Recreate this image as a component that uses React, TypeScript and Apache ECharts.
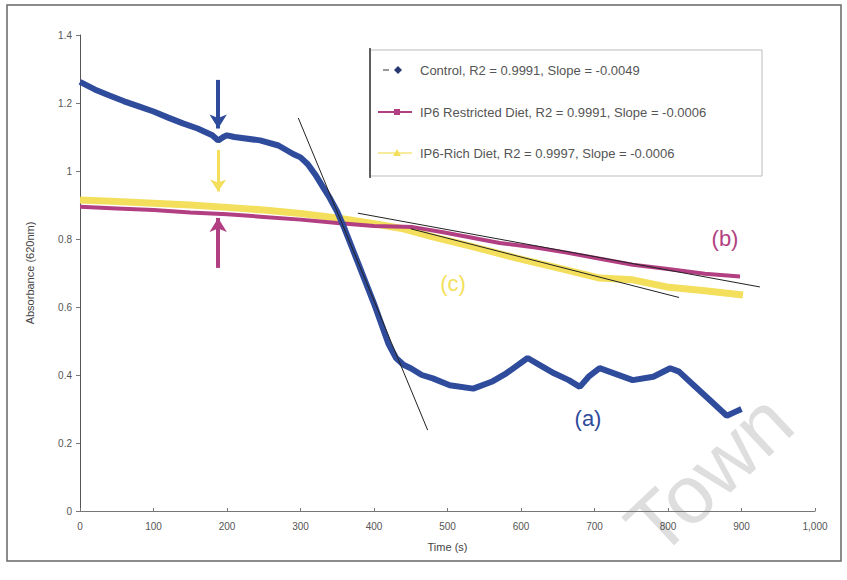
import React, { useEffect, useRef } from "react";
import * as echarts from "echarts";

// Control (a)
const controlT = [0, 20, 40, 60, 80, 100, 120, 140, 160, 180, 188, 195, 200, 210, 245, 270, 290, 300, 310, 320, 330, 340, 350, 360, 370, 380, 390, 400, 410, 420, 430, 440, 450, 465, 480, 503, 535, 560, 580, 609, 625, 645, 665, 680, 692, 707, 720, 752, 780, 803, 815, 835, 855, 880, 890, 900];
const controlY = [1.262, 1.24, 1.222, 1.205, 1.19, 1.175, 1.157, 1.14, 1.125, 1.105, 1.09, 1.1, 1.105, 1.1, 1.09, 1.075, 1.05, 1.04, 1.02, 0.99, 0.955, 0.92, 0.88, 0.83, 0.775, 0.72, 0.665, 0.61, 0.55, 0.49, 0.45, 0.43, 0.42, 0.4, 0.39, 0.37, 0.36, 0.38, 0.405, 0.45, 0.43, 0.405, 0.385, 0.365, 0.395, 0.42, 0.41, 0.385, 0.395, 0.42, 0.41, 0.37, 0.33, 0.28, 0.29, 0.3];
// IP6 restricted diet (b)
const restrictT = [0, 50, 100, 150, 200, 250, 300, 350, 400, 453, 494, 530, 571, 620, 662, 700, 752, 800, 850, 898];
const restrictY = [0.895, 0.89, 0.885, 0.878, 0.873, 0.865, 0.857, 0.847, 0.838, 0.835, 0.82, 0.805, 0.788, 0.775, 0.76, 0.745, 0.724, 0.712, 0.698, 0.69];
// IP6-rich diet (c)
const richT = [0, 50, 100, 150, 200, 250, 300, 350, 400, 440, 480, 530, 594, 650, 707, 752, 798, 850, 902];
const richY = [0.915, 0.91, 0.905, 0.9, 0.893, 0.885, 0.875, 0.862, 0.845, 0.83, 0.806, 0.78, 0.744, 0.715, 0.685, 0.68, 0.659, 0.648, 0.635];
// Linear fits
const controlFitT = [297, 473];
const controlFitY = [1.156, 0.238];
const restrictFitT = [378, 925];
const restrictFitY = [0.876, 0.659];
const richFitT = [450, 815];
const richFitY = [0.83, 0.628];
// Arrows at t = 188 s
const arrowT = 188;
const controlArrow = [1.268, 1.125];
const richArrow = [1.062, 0.94];
const restrictArrow = [0.715, 0.862];

const legendNames = [
  "Control, R2 = 0.9991, Slope = -0.0049",
  "IP6 Restricted Diet, R2 = 0.9991, Slope = -0.0006",
  "IP6-Rich Diet, R2 = 0.9997, Slope = -0.0006",
];

const BLUE = "#2f4b9c";
const MAGENTA = "#b23f82";
const YELLOW = "#f3df5c";

const pairs = (t: number[], y: number[]) => t.map((v, i) => [v, y[i]]);

export default function App() {
  const ref = useRef<HTMLDivElement>(null);
  useEffect(() => {
    if (!ref.current) return;
    const chart = echarts.init(ref.current, null, { renderer: "svg" });
    const arrow = (color: string, width: number, y: number[], size: number[]) => ({
      silent: true,
      symbol: ["none", "arrow"],
      symbolSize: size,
      label: { show: false },
      lineStyle: { color, width, type: "solid" },
      data: [[{ coord: [arrowT, y[0]] }, { coord: [arrowT, y[1]] }]],
    });
    const fit = (t: number[], y: number[]) => ({
      type: "line",
      data: pairs(t, y),
      showSymbol: false,
      lineStyle: { color: "#222", width: 1 },
      z: 5,
      silent: true,
    });
    const txt = { fontFamily: "Arial, Liberation Sans, sans-serif", fontSize: 13, fill: "#555" };
    chart.setOption({
      animation: false,
      backgroundColor: "#fff",
      grid: { left: 80, right: 32, top: 35, bottom: 69 },
      xAxis: {
        type: "value",
        min: 0,
        max: 1000,
        interval: 100,
        name: "Time (s)",
        nameLocation: "middle",
        nameGap: 30,
        nameTextStyle: { color: "#444", fontSize: 11, fontFamily: "Arial, sans-serif" },
        axisLine: { lineStyle: { color: "#777", width: 1 } },
        axisTick: { show: true, length: 3, inside: true, lineStyle: { color: "#777" } },
        axisLabel: {
          color: "#555",
          fontSize: 10,
          margin: 10,
          fontFamily: "Arial, sans-serif",
          formatter: (v: number) => v.toLocaleString("en-US"),
        },
        splitLine: { show: false },
      },
      yAxis: {
        type: "value",
        min: 0,
        max: 1.4,
        interval: 0.2,
        name: "Absorbance (620nm)",
        nameLocation: "middle",
        nameGap: 45,
        nameTextStyle: { color: "#444", fontSize: 11, fontFamily: "Arial, sans-serif" },
        axisLine: { show: true, lineStyle: { color: "#555", width: 1 } },
        axisTick: { show: true, length: 4, lineStyle: { color: "#777" } },
        axisLabel: {
          color: "#555",
          fontSize: 10,
          margin: 8,
          fontFamily: "Arial, sans-serif",
          formatter: (v: number) => String(Math.round(v * 10) / 10),
        },
        splitLine: { show: false },
      },
      series: [
        {
          name: legendNames[2],
          type: "line",
          data: pairs(richT, richY),
          showSymbol: false,
          lineStyle: { color: YELLOW, width: 7 },
          z: 2,
          markLine: arrow(YELLOW, 3, richArrow, [12, 12]),
        },
        {
          name: legendNames[1],
          type: "line",
          data: pairs(restrictT, restrictY),
          showSymbol: false,
          lineStyle: { color: MAGENTA, width: 4 },
          z: 3,
          markLine: arrow(MAGENTA, 4, restrictArrow, [13, 14]),
        },
        {
          name: legendNames[0],
          type: "line",
          data: pairs(controlT, controlY),
          showSymbol: false,
          lineStyle: { color: BLUE, width: 6 },
          z: 4,
          markLine: arrow(BLUE, 4, controlArrow, [13, 14]),
        },
        fit(controlFitT, controlFitY),
        fit(restrictFitT, restrictFitY),
        fit(richFitT, richFitY),
      ],
      graphic: [
        // outer frame
        { type: "rect", shape: { x: 7, y: 5, width: 834, height: 556 }, style: { fill: "none", stroke: "#666", lineWidth: 1.5 }, silent: true },
        // watermark
        { type: "text", x: 667, y: 569, rotation: (43 * Math.PI) / 180, style: { text: "Town", fontFamily: "Arial, sans-serif", fontSize: 82, fill: "#dedede", textAlign: "left", textVerticalAlign: "bottom" }, z: -1, silent: true },
        // legend box
        { type: "rect", shape: { x: 370, y: 50, width: 392, height: 126 }, style: { fill: "#fff", stroke: "#bbb", lineWidth: 1 }, z: 10 },
        { type: "line", shape: { x1: 370, y1: 48, x2: 370, y2: 178 }, style: { stroke: "#333", lineWidth: 1.5 }, z: 11 },
        { type: "line", shape: { x1: 383, y1: 70, x2: 389, y2: 70 }, style: { stroke: "#333", lineWidth: 1 }, z: 11 },
        { type: "polygon", shape: { points: [[398, 66], [402, 70], [398, 74], [394, 70]] }, style: { fill: "#2a3870" }, z: 11 },
        { type: "text", x: 420, y: 70, style: { ...txt, text: legendNames[0], textVerticalAlign: "middle" }, z: 11 },
        { type: "line", shape: { x1: 378, y1: 112, x2: 412, y2: 112 }, style: { stroke: MAGENTA, lineWidth: 2 }, z: 11 },
        { type: "rect", shape: { x: 394, y: 109, width: 6, height: 6 }, style: { fill: MAGENTA }, z: 11 },
        { type: "text", x: 420, y: 112, style: { ...txt, text: legendNames[1], textVerticalAlign: "middle" }, z: 11 },
        { type: "line", shape: { x1: 378, y1: 153, x2: 412, y2: 153 }, style: { stroke: "#f7ec9e", lineWidth: 2 }, z: 11 },
        { type: "polygon", shape: { points: [[397, 149], [401, 156], [393, 156]] }, style: { fill: YELLOW }, z: 11 },
        { type: "text", x: 420, y: 153, style: { ...txt, text: legendNames[2], textVerticalAlign: "middle" }, z: 11 },
        // curve labels
        { type: "text", x: 725, y: 238, style: { text: "(b)", fontFamily: "Arial, sans-serif", fontSize: 22, fill: MAGENTA, textAlign: "center", textVerticalAlign: "middle" }, z: 11 },
        { type: "text", x: 453, y: 283, style: { text: "(c)", fontFamily: "Arial, sans-serif", fontSize: 22, fill: YELLOW, textAlign: "center", textVerticalAlign: "middle" }, z: 11 },
        { type: "text", x: 588, y: 418, style: { text: "(a)", fontFamily: "Arial, sans-serif", fontSize: 22, fill: BLUE, textAlign: "center", textVerticalAlign: "middle" }, z: 11 },
      ],
    });
    return () => chart.dispose();
  }, []);
  return <div ref={ref} style={{ width: 847, height: 580, position: "absolute", left: 0, top: 0 }} />;
}
